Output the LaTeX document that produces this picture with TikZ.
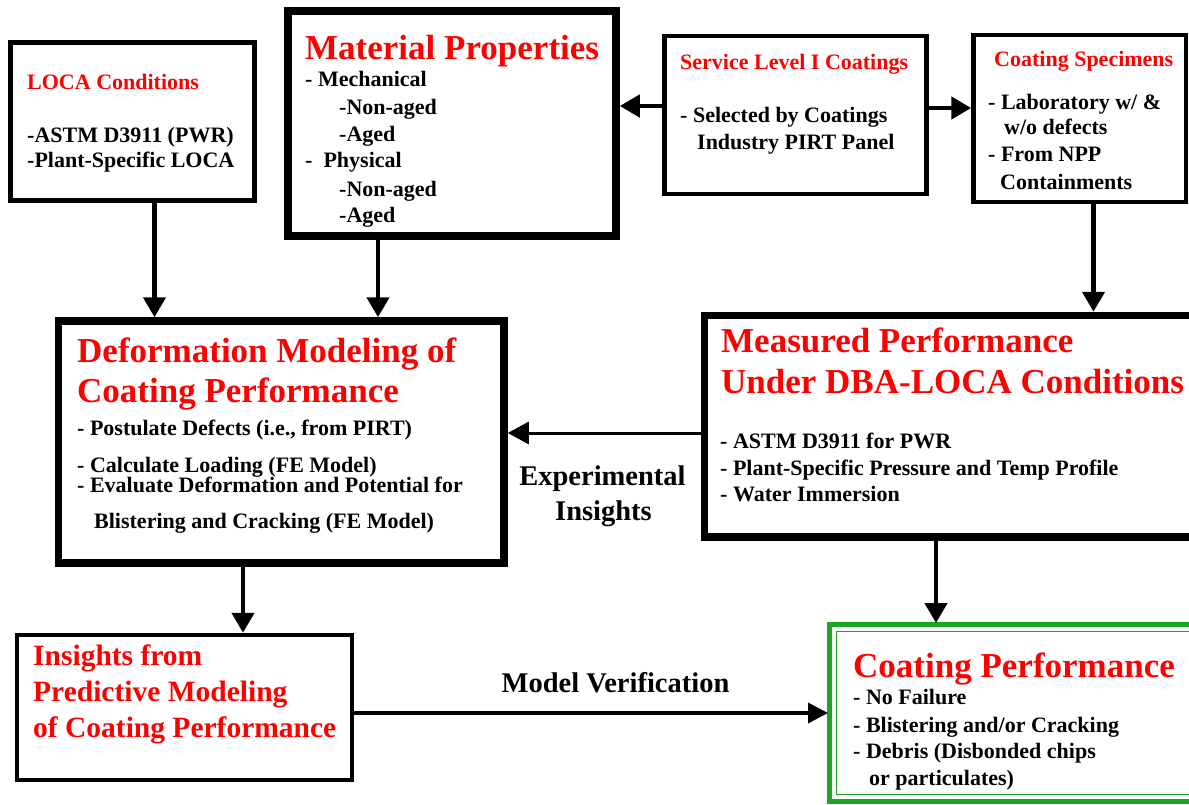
\documentclass[tikz,border=0pt]{standalone}
\usepackage{fontspec}
\setmainfont{Liberation Serif}
\usetikzlibrary{arrows.meta}
\definecolor{tred}{RGB}{255,0,0}
\definecolor{perfgreen}{RGB}{30,165,40}
\begin{document}
\begin{tikzpicture}[x=1pt,y=-1pt,
  box/.style={draw, rectangle, inner sep=0pt},
  thinbox/.style={box, line width=4.5pt},
  thickbox/.style={box, line width=7.5pt},
  txt/.style={anchor=base west, inner sep=0pt, font=\bfseries\fontsize{22}{26}\selectfont},
  sttl/.style={txt, text=tred},
  ttl/.style={txt, text=tred, font=\bfseries\fontsize{35}{40}\selectfont},
  mttl/.style={txt, text=tred, font=\bfseries\fontsize{29.5}{34}\selectfont},
  lbl/.style={anchor=base, inner sep=0pt, font=\bfseries\fontsize{28.5}{34}\selectfont},
  arr/.style={line width=4.5pt, -{Triangle[length=20pt,width=22pt]}},
  arrthin/.style={line width=3pt, -{Triangle[length=21pt,width=22pt]}},
  arrmid/.style={line width=3.5pt, -{Triangle[length=20pt,width=20pt]}}
]
\useasboundingbox (0,0) rectangle (1189,805);
\clip (0,0) rectangle (1189,805);

% boxes
\node[thinbox, minimum width=244pt, minimum height=158pt] (loca) at (132.5,121.5) {};
\node[thickbox, minimum width=328pt, minimum height=225pt] (matp) at (452,123.5) {};
\node[thinbox, minimum width=262pt, minimum height=158pt] (serv) at (795.5,115) {};
\node[thinbox, minimum width=212.5pt, minimum height=167pt] (spec) at (1079.75,118.5) {};
\node[thickbox, minimum width=445.5pt, minimum height=242pt] (defm) at (281.25,442) {};
\node[thickbox, minimum width=490.5pt, minimum height=221.5pt] (meas) at (949.75,426.25) {};
\node[thinbox, minimum width=335pt, minimum height=145pt] (insi) at (184.5,707.5) {};
\node[box, draw=perfgreen, line width=1.2pt, outer sep=0pt, minimum width=372pt, minimum height=180pt] (perf) at (1014,713) {};
\draw[perfgreen, line width=2.5pt] ([xshift=2.5pt,yshift=-2.5pt]perf.north west) rectangle ([xshift=-2.5pt,yshift=2.5pt]perf.south east);
\draw[perfgreen, line width=1.5pt] ([xshift=8.5pt,yshift=-8.5pt]perf.north west) rectangle ([xshift=-8.5pt,yshift=8.5pt]perf.south east);

% LOCA conditions
\node[sttl] (locat) at (27,90) {LOCA Conditions};
\node[txt] (loca1) at (27,143) {-ASTM D3911 (PWR)};
\node[txt] (loca2) at (27,168) {-Plant-Specific LOCA};

% Material properties
\node[ttl] (matpt) at (305,60) {Material Properties};
\node[txt] (matp1) at (305,87) {- Mechanical};
\node[txt] (matp2) at (339,115) {-Non-aged};
\node[txt] (matp3) at (339,142) {-Aged};
\node[txt] (matp4) at (305,168) {-\ \ Physical};
\node[txt] (matp5) at (339,197) {-Non-aged};
\node[txt] (matp6) at (339,223) {-Aged};

% Service level
\node[sttl] (servt) at (680,70) {Service Level I Coatings};
\node[txt] (serv1) at (680,123) {- Selected by Coatings};
\node[txt] (serv2) at (697,150) {Industry PIRT Panel};

% Coating specimens
\node[sttl] (spect) at (994,67) {Coating Specimens};
\node[txt] (spec1) at (988,110) {- Laboratory w/ \&};
\node[txt] (spec2) at (1004,135) {w/o defects};
\node[txt] (spec3) at (988,162) {- From NPP};
\node[txt] (spec4) at (1000,190) {Containments};

% Deformation modeling
\node[ttl] (defmt1) at (77,362) {Deformation Modeling of};
\node[ttl] (defmt2) at (77,402) {Coating Performance};
\node[txt] (defm1) at (77,435) {- Postulate Defects (i.e., from PIRT)};
\node[txt] (defm2) at (77,472) {- Calculate Loading (FE Model)};
\node[txt] (defm3) at (77,492) {- Evaluate Deformation and Potential for};
\node[txt] (defm4) at (94,528) {Blistering and Cracking (FE Model)};

% Measured performance
\node[ttl] (meast1) at (721,352) {Measured Performance};
\node[ttl] (meast2) at (721,393) {Under DBA-LOCA Conditions};
\node[txt] (meas1) at (720,448) {- ASTM D3911 for PWR};
\node[txt] (meas2) at (720,475) {- Plant-Specific Pressure and Temp Profile};
\node[txt] (meas3) at (720,501) {- Water Immersion};

% Insights
\node[mttl] (insit1) at (33,665) {Insights from};
\node[mttl] (insit2) at (33,701) {Predictive Modeling};
\node[mttl] (insit3) at (33,737) {of Coating Performance};

% Coating performance
\node[ttl] (perft) at (853,677) {Coating Performance};
\node[txt] (perf1) at (853,704) {- No Failure};
\node[txt] (perf2) at (853,732) {- Blistering and/or Cracking};
\node[txt] (perf3) at (853,758) {- Debris (Disbonded chips};
\node[txt] (perf4) at (869,785) {or particulates)};

% labels
\node[lbl] (expl1) at (602.5,485) {Experimental};
\node[lbl] (expl2) at (603.5,520) {Insights};
\node[lbl] (mver) at (615.5,692) {Model Verification};

% connectors
\draw[arr] ([xshift=22pt]loca.south) -- ([xshift=22pt]loca.south |- defm.north);
\draw[arr] ([xshift=-74pt]matp.south) -- ([xshift=-74pt]matp.south |- defm.north);
\draw[arr] ([yshift=9pt]serv.west) -- ([yshift=9pt]serv.west -| matp.east);
\draw[arr] ([yshift=7pt]serv.east) -- ([yshift=7pt]serv.east -| spec.west);
\draw[arr] ([xshift=13.75pt]spec.south) -- ([xshift=13.75pt]spec.south |- meas.north);
\draw[arrthin] ([yshift=-6.75pt]meas.west) -- ([yshift=-6.75pt]meas.west -| defm.east);
\draw[arr] ([xshift=-38.25pt]defm.south) -- ([xshift=-38.25pt]defm.south |- insi.north);
\draw[arr] ([xshift=-13.75pt]meas.south) -- ([xshift=-13.75pt]meas.south |- perf.north);
\draw[arrmid] ([yshift=-5.5pt]insi.east) -- ([yshift=-5.5pt]insi.east -| perf.west);
\end{tikzpicture}
\end{document}
